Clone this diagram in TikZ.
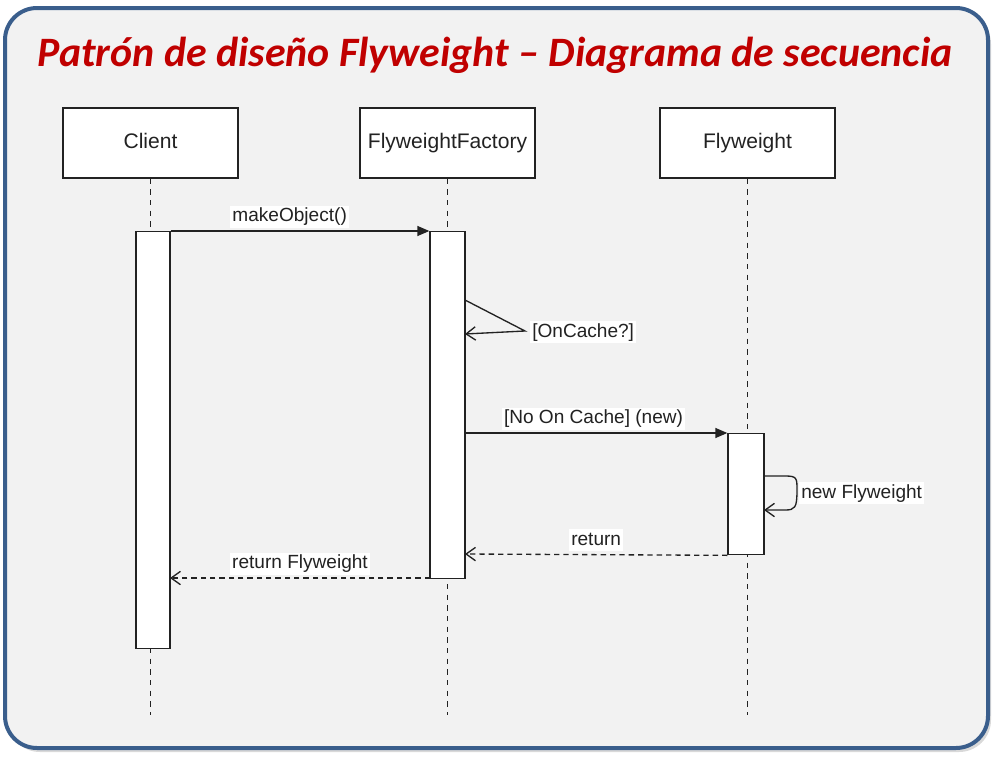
\documentclass[tikz,border=0pt]{standalone}
\usepackage{fontspec}
\setmainfont{Liberation Sans}
\newfontfamily\titlefont{Carlito}
\usetikzlibrary{arrows.meta}
\definecolor{frameblue}{HTML}{3A5E8C}
\definecolor{panel}{HTML}{F2F2F2}
\definecolor{titlered}{HTML}{C00000}
\definecolor{ink}{HTML}{222222}
\begin{document}
\begin{tikzpicture}[x=0.75pt,y=-0.75pt,
  objbox/.style={draw=ink,fill=white,line width=1pt,minimum width=131.25pt,minimum height=52.5pt,inner sep=0pt,font=\fontsize{15.8}{18}\selectfont,text=ink,text height=11.5pt,text depth=3.5pt},
  actbar/.style={draw=ink,fill=white,line width=1pt,inner sep=0pt,anchor=north},
  lifeline/.style={draw=ink,line width=1pt,dash pattern=on 4pt off 4pt},
  callmsg/.style={draw=ink,line width=1pt,-{Triangle[length=9pt,width=7.5pt]}},
  retmsg/.style={draw=ink,line width=1pt,dash pattern=on 4pt off 3pt,-{Straight Barb[length=7pt,width=10pt]}},
  selfmsg/.style={draw=ink,line width=1pt,-{Straight Barb[length=7pt,width=10pt]}},
  msglabel/.style={font=\fontsize{14.3}{16}\selectfont,inner sep=1.5pt,fill=white,text=ink,text height=10.5pt,text depth=3pt},
  onlabel/.style={msglabel,anchor=base,yshift=7pt}]
\useasboundingbox (0,0) rectangle (1001,757);
% frame
\fill[gray!30,rounded corners=24pt] (8,12) rectangle (991,752);
\draw[frameblue,fill=panel,line width=3pt,rounded corners=24pt] (5,8) rectangle (988,748);
% title
\node[anchor=base] (title) at (495,66) {\titlefont\bfseries\itshape\color{titlered}\fontsize{31.4}{36}\selectfont Patrón de diseño Flyweight – Diagrama de secuencia};
% objects
\node[objbox] (client) at (150.5,143) {Client};
\node[objbox] (factory) at (447.5,143) {FlyweightFactory};
\node[objbox] (fly) at (747.5,143) {Flyweight};
% lifeline ends
\coordinate (clientend) at (150.5,715);
\coordinate (factoryend) at (447.5,715);
\coordinate (flyend) at (747.5,715);
\draw[lifeline] (client.south) -- (clientend);
\draw[lifeline] (factory.south) -- (factoryend);
\draw[lifeline] (fly.south) -- (flyend);
% activation bars
\node[actbar,minimum width=25.5pt,minimum height=312.75pt] (clientact) at (153,231) {};
\node[actbar,minimum width=26.25pt,minimum height=260.25pt] (factoryact) at (447.5,231) {};
\node[actbar,minimum width=27pt,minimum height=90.75pt] (flyact) at (746,433) {};
% makeObject
\draw[callmsg] (clientact.north east) -- node[onlabel,pos=0.46]{makeObject()} (factoryact.north west);
% self call OnCache
\node[msglabel,anchor=base west] (oclabel) at (530,337) {[OnCache?]};
\coordinate (ocstart) at (465,300);
\coordinate (octip) at (525,331);
\coordinate (ocend) at (465,334);
\draw[selfmsg] (ocstart) -- (octip) -- (ocend);
% No On Cache
\coordinate (ncstart) at (465,433);
\draw[callmsg] (ncstart) -- node[onlabel,pos=0.49]{[No On Cache] (new)} (flyact.north west);
% self call new Flyweight
\node[msglabel,anchor=base west] (nflabel) at (799,498) {new Flyweight};
\coordinate (nfstart) at (764,476);
\coordinate (nfend) at (764,510);
\draw[selfmsg] (nfstart) -- (785,476) .. controls (797,476) and (797,478) .. (797,490) .. controls (797,508) and (795,510) .. (785,510) -- (nfend);
% returns
\coordinate (retend) at (465,554);
\draw[retmsg] (flyact.south west) -- node[onlabel,pos=0.5]{return} (retend);
\coordinate (rfstart) at (430,578);
\coordinate (rfend) at (170,578);
\draw[retmsg] (rfstart) -- node[onlabel,pos=0.5]{return Flyweight} (rfend);
\end{tikzpicture}
\end{document}
